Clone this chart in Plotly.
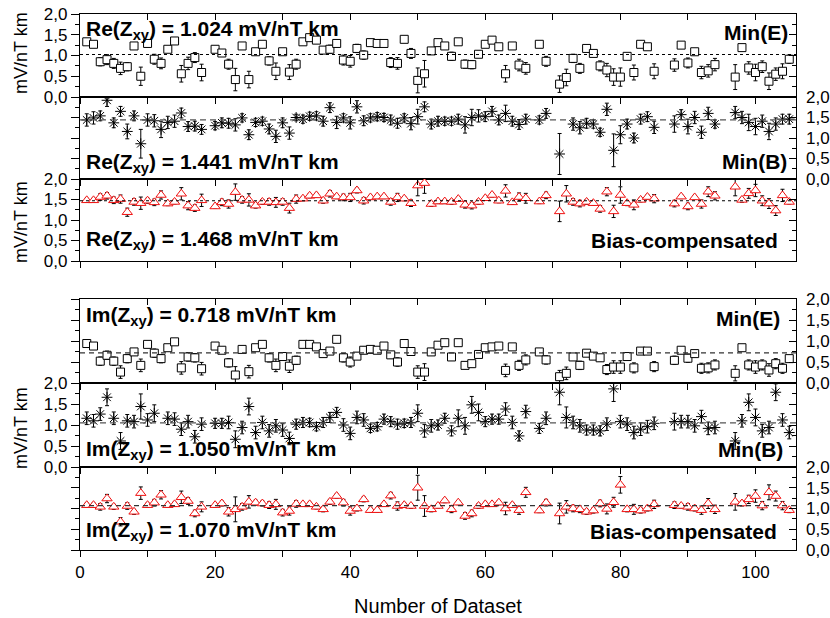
import plotly.graph_objects as go

# ---------------- data ----------------
DATASET = [1, 2, 3, 4, 5, 6, 7, 8, 9, 10, 11, 12, 13, 14, 15, 16, 17, 18,
           20, 21, 22, 23, 24, 25, 26, 27, 28, 29, 30, 31, 32, 33, 34, 35, 36, 37, 38, 39, 40,
           41, 42, 43, 44, 45, 46, 47, 48, 49, 50, 51, 52, 53, 54, 55, 56, 57, 58, 59, 60,
           61, 62, 63, 64, 65, 66, 68, 69,
           71, 72, 73, 74, 75, 76, 77, 78, 79, 80, 81, 82, 83, 84, 85,
           88, 89, 90, 91, 92, 93, 94,
           97, 98, 99, 100, 101, 102, 103, 104, 105]

RE_MIN_E = [1.33, 1.27, 0.85, 0.90, 0.81, 0.69, 0.73, 1.23, 0.50, 1.29, 0.91, 0.81, 1.15, 1.35, 0.56, 0.81, 0.95, 0.59,
            1.15, 1.06, 0.79, 0.42, 1.23, 0.42, 1.09, 1.27, 0.87, 0.62, 1.09, 0.60, 0.79, 1.33, 1.43, 1.37, 1.13, 1.15, 1.29, 0.89, 0.86,
            1.17, 1.01, 1.31, 1.29, 1.29, 0.83, 0.81, 1.39, 1.05, 0.40, 0.56, 1.11, 1.31, 1.23, 0.98, 1.33, 0.79, 0.78, 1.03, 1.27,
            1.37, 1.21, 0.56, 1.23, 0.77, 0.69, 1.27, 0.86,
            0.31, 0.47, 0.93, 0.69, 1.17, 1.05, 0.75, 0.65, 0.48, 0.48, 0.98, 0.59, 1.27, 1.21, 0.62,
            0.77, 1.25, 0.82, 1.09, 0.59, 0.63, 0.78,
            0.48, 1.19, 0.70, 0.59, 0.73, 0.38, 0.55, 0.62, 0.91]
RE_MIN_E_ERR = [.04, .04, .10, .12, .12, .15, .10, .05, .22, .03, .12, .13, .06, .04, .20, .15, .12, .20,
                .05, .06, .12, .27, .05, .20, .08, .04, .10, .20, .07, .18, .12, .04, .04, .04, .06, .10, .06, .12, .14,
                .10, .10, .04, .04, .04, .12, .14, .04, .12, .30, .32, .06, .04, .05, .10, .04, .10, .10, .08, .04,
                .04, .04, .20, .04, .14, .14, .04, .12,
                .20, .20, .10, .12, .06, .05, .12, .16, .20, .22, .07, .18, .04, .04, .18,
                .15, .06, .12, .05, .15, .15, .15,
                .30, .06, .15, .20, .14, .20, .15, .18, .10]

RE_MIN_B = [1.44, 1.49, 1.54, 1.92, 1.37, 1.65, 1.16, 1.54, 0.86, 1.44, 1.42, 1.21, 1.38, 1.41, 1.61, 1.28, 1.29, 1.21,
            1.30, 1.37, 1.36, 1.32, 1.49, 1.08, 1.38, 1.41, 1.22, 1.04, 1.37, 1.12, 1.50, 1.46, 1.53, 1.54, 1.41, 1.74, 1.38, 1.49, 1.37,
            1.76, 1.42, 1.49, 1.52, 1.50, 1.44, 1.36, 1.49, 1.35, 1.52, 1.76, 1.34, 1.41, 1.41, 1.41, 1.46, 1.32, 1.50, 1.54, 1.52,
            1.65, 1.44, 1.60, 1.41, 1.33, 1.46, 1.44, 1.60,
            0.61, None, 1.34, 1.25, 1.36, 1.34, 1.14, 1.70, 0.70, 1.08, 1.34, 1.00, 1.46, 1.52, 1.26,
            1.34, 1.57, 1.28, 1.50, 1.14, 1.60, 1.34,
            1.62, 1.50, 1.38, 1.28, 1.41, 1.16, 1.34, 1.46, 1.46]
RE_MIN_B_ERR = [.15, .15, .12, .15, .12, .12, .18, .12, .35, .15, .15, .20, .15, .15, .12, .12, .12, .12,
                .10, .12, .12, .15, .10, .12, .10, .10, .12, .15, .12, .15, .08, .10, .10, .10, .12, .12, .15, .10, .15,
                .15, .12, .10, .10, .10, .12, .12, .10, .15, .18, .12, .12, .12, .10, .10, .12, .20, .20, .15, .12,
                .12, .12, .20, .12, .12, .12, .10, .12,
                .50, None, .15, .15, .12, .10, .10, .15, .40, .22, .12, .12, .12, .12, .15,
                .20, .12, .18, .15, .15, .15, .10,
                .15, .15, .20, .20, .15, .20, .15, .12, .12]

RE_BIAS = [1.48, 1.48, 1.56, 1.59, 1.48, 1.51, 1.19, 1.44, 1.41, 1.47, 1.43, 1.61, 1.40, 1.44, 1.64, 1.35, 1.29, 1.48,
           1.33, 1.43, 1.39, 1.68, 1.49, 1.49, 1.35, 1.44, 1.44, 1.43, 1.44, 1.29, 1.51, 1.52, 1.59, 1.60, 1.47, 1.64, 1.57, 1.55, 1.55,
           1.72, 1.47, 1.55, 1.57, 1.57, 1.44, 1.55, 1.52, 1.41, 1.84, 1.90, 1.39, 1.45, 1.45, 1.44, 1.51, 1.37, 1.35, 1.44, 1.53,
           1.61, 1.47, 1.71, 1.43, 1.56, 1.53, 1.45, 1.60,
           1.21, 1.64, 1.44, 1.40, 1.44, 1.41, 1.27, 1.69, 1.21, 1.61, 1.41, 1.37, 1.49, 1.56, 1.52,
           1.40, 1.57, 1.33, 1.55, 1.39, 1.69, 1.59,
           1.81, 1.49, 1.65, 1.72, 1.47, 1.40, 1.23, 1.60, 1.44]
RE_BIAS_ERR = [.05, .05, .08, .08, .08, .10, .10, .08, .15, .06, .08, .10, .05, .05, .15, .10, .08, .15,
               .05, .08, .10, .20, .08, .15, .06, .06, .08, .12, .08, .12, .10, .05, .05, .05, .06, .08, .05, .08, .10,
               .06, .08, .05, .05, .05, .08, .10, .05, .08, .25, .25, .06, .05, .05, .06, .05, .08, .08, .06, .05,
               .05, .05, .15, .05, .10, .12, .05, .08,
               .25, .20, .08, .08, .06, .05, .08, .10, .15, .20, .06, .12, .05, .05, .10,
               .08, .05, .08, .05, .10, .12, .10,
               .22, .06, .12, .15, .12, .12, .12, .15, .05]

IM_MIN_E = [0.94, 0.88, 0.52, 0.66, 0.52, 0.26, 0.58, 0.74, 0.42, 0.92, 0.71, 0.58, 0.84, 0.98, 0.36, 0.62, 0.60, 0.34,
            0.88, 0.78, 0.48, 0.19, 0.80, 0.27, 0.84, 0.92, 0.60, 0.42, 0.63, 0.40, 0.54, 0.92, 0.92, 0.86, 0.70, 0.76, 1.04, 0.60, 0.50,
            0.64, 0.78, 0.80, 0.78, 0.88, 0.67, 0.50, 0.94, 0.75, 0.26, 0.26, 0.74, 0.90, 0.96, 0.62, 0.96, 0.42, 0.46, 0.68, 0.84,
            0.86, 0.88, 0.30, 0.86, 0.42, 0.55, 0.74, 0.55,
            0.15, 0.23, 0.62, 0.42, 0.71, 0.64, 0.60, 0.32, 0.38, 0.38, 0.63, 0.36, 0.76, 0.76, 0.39,
            0.54, 0.78, 0.59, 0.70, 0.35, 0.36, 0.43,
            0.23, 0.84, 0.43, 0.38, 0.43, 0.31, 0.46, 0.35, 0.58]
IM_MIN_E_ERR = [.03, .03, .10, .10, .10, .15, .10, .08, .15, .03, .10, .10, .05, .03, .15, .10, .10, .15,
                .04, .06, .10, .20, .05, .15, .05, .04, .10, .15, .08, .15, .10, .03, .03, .04, .05, .06, .03, .10, .12,
                .08, .08, .04, .04, .04, .08, .10, .04, .08, .15, .20, .05, .03, .03, .08, .03, .08, .08, .06, .04,
                .04, .04, .15, .04, .12, .12, .04, .10,
                .15, .15, .08, .10, .05, .06, .08, .12, .15, .15, .06, .12, .04, .04, .12,
                .10, .05, .10, .05, .12, .12, .12,
                .18, .05, .12, .15, .12, .15, .12, .12, .08]

IM_MIN_B = [1.16, 1.10, 1.26, 1.66, 1.16, 0.62, 1.10, 1.08, 1.44, 1.12, 1.28, None, 1.16, 1.14, 0.90, 1.08, 0.72, 1.02,
            1.04, 1.04, 1.06, 0.66, 0.94, 1.44, 0.82, 1.06, 0.86, 0.98, 0.88, 0.68, 1.02, 1.06, 1.06, 0.96, 1.06, 1.18, 1.30, 1.00, 0.80,
            1.18, 1.12, 0.92, 0.96, 1.14, 1.08, 1.02, 1.04, 1.06, 1.28, 0.86, 0.98, 1.00, 1.16, 0.86, 1.16, 0.98, 1.48, 1.30, 1.08,
            1.14, 1.14, 1.38, 1.06, 0.74, 1.32, 0.92, 1.16,
            1.78, 1.18, 1.06, 0.98, 0.88, 0.88, 0.86, 1.02, 1.86, 1.08, 1.02, 0.82, 0.90, 0.96, 1.04,
            1.08, 1.08, 1.08, 0.98, 1.20, 0.92, 0.94,
            0.62, 1.10, 1.54, 1.18, 0.86, 0.94, 1.78, 1.12, 0.82]
IM_MIN_B_ERR = [.15, .15, .15, .20, .15, .20, .15, .15, .30, .15, .20, None, .15, .15, .15, .15, .15, .15,
                .12, .12, .15, .20, .15, .20, .15, .15, .15, .15, .15, .15, .12, .12, .10, .10, .12, .12, .12, .15, .15,
                .15, .15, .10, .10, .12, .12, .12, .10, .12, .20, .15, .15, .12, .12, .12, .20, .20, .20, .20, .12,
                .12, .12, .15, .15, .12, .15, .12, .15,
                .30, .25, .15, .15, .12, .12, .12, .15, .30, .15, .15, .15, .15, .15, .15,
                .20, .15, .15, .15, .15, .15, .15,
                .20, .15, .20, .20, .15, .15, .20, .15, .15]

IM_BIAS = [1.08, 1.08, 1.04, 1.24, 1.04, 0.68, 1.06, 0.92, 1.37, 1.08, 1.14, 1.33, 1.08, 1.10, 1.27, 1.18, 0.88, 1.04,
           1.08, 1.12, 0.92, 0.98, 1.04, 1.16, 1.14, 1.12, 1.08, 1.10, 0.90, 0.94, 1.11, 1.10, 1.10, 1.04, 0.98, 1.16, 1.30, 1.14, 0.94,
           1.00, 1.22, 0.96, 0.96, 1.10, 1.31, 1.06, 1.08, 1.06, 1.50, 1.06, 0.98, 1.06, 1.19, 0.98, 1.14, 0.82, 0.88, 1.06, 1.10,
           1.10, 1.14, 1.00, 1.08, 0.96, 1.39, 0.95, 1.14,
           0.88, 1.04, 1.00, 0.98, 0.92, 0.95, 1.12, 0.99, 1.15, 1.57, 0.98, 0.98, 0.95, 1.00, 1.10,
           1.08, 1.06, 1.04, 1.00, 0.96, 1.12, 0.98,
           1.16, 1.12, 1.22, 1.30, 1.07, 1.39, 1.30, 1.07, 0.96]
IM_BIAS_ERR = [.05, .05, .08, .10, .06, .10, .08, .06, .15, .05, .08, .10, .05, .05, .15, .08, .08, .12,
               .05, .06, .10, .30, .08, .15, .06, .06, .08, .12, .08, .10, .08, .05, .05, .05, .06, .06, .05, .08, .10,
               .06, .06, .05, .05, .05, .08, .10, .05, .06, .30, .25, .06, .05, .05, .08, .05, .08, .08, .06, .05,
               .05, .05, .15, .05, .10, .12, .05, .08,
               .25, .15, .08, .08, .06, .06, .08, .12, .12, .20, .06, .12, .06, .06, .10,
               .08, .05, .08, .06, .10, .12, .10,
               .20, .06, .10, .15, .10, .18, .12, .10, .06]

MEANS = [1.024, 1.441, 1.468, 0.718, 1.050, 1.070]
VALUE_LABELS = ["Re(Z<sub>xy</sub>) = 1.024 mV/nT km", "Re(Z<sub>xy</sub>) = 1.441 mV/nT km",
                "Re(Z<sub>xy</sub>) = 1.468 mV/nT km", "Im(Z<sub>xy</sub>) = 0.718 mV/nT km",
                "Im(Z<sub>xy</sub>) = 1.050 mV/nT km", "Im(Z<sub>xy</sub>) = 1.070 mV/nT km"]
METHOD_LABELS = ["Min(E)", "Min(B)", "Bias-compensated", "Min(E)", "Min(B)", "Bias-compensated"]
Y_TICKS = [0, 0.5, 1.0, 1.5, 2.0]
X_TICKS = [0, 20, 40, 60, 80, 100]
Y_TITLE = "mV/nT km"
X_TITLE = "Number of Dataset"

SERIES = [(RE_MIN_E, RE_MIN_E_ERR), (RE_MIN_B, RE_MIN_B_ERR), (RE_BIAS, RE_BIAS_ERR),
          (IM_MIN_E, IM_MIN_E_ERR), (IM_MIN_B, IM_MIN_B_ERR), (IM_BIAS, IM_BIAS_ERR)]

# ---------------- layout geometry ----------------
W, H = 830, 618
ML, MR, MT, MB = 80, 34, 14, 68
PH = H - MT - MB
PW = W - ML - MR
panel_px = [(14, 97), (97, 179), (179, 261), (299, 383), (383, 467), (467, 550)]


def py(v):
    return (H - MB - v) / PH


def px(v):
    return (v - ML) / PW


FONT = "Liberation Sans, Arial, sans-serif"
marker_styles = ["E", "B", "C", "E", "B", "C"]
line_dash = ["dot", "6px,4px", "dot", "5px,4px", "6px,4px", "5px,4px"]
line_col = ["black", "#555", "black", "#333", "#555", "#333"]
left_labels = [True, False, True, False, True, False]

fig = go.Figure()
layout = dict(width=W, height=H, margin=dict(l=ML, r=MR, t=MT, b=MB, autoexpand=False),
              paper_bgcolor="white", plot_bgcolor="white", showlegend=False,
              separators=",.", font=dict(family=FONT, color="black", size=17))
annotations = []

for i in range(6):
    n = i + 1
    on = i + 7
    xs = "" if n == 1 else str(n)
    xname, yname = "x" + xs, "y" + xs
    oxname, oyname = "x" + str(on), "y" + str(on)
    top, bot = panel_px[i]
    dom = [py(bot), py(top)]
    vals, errs = SERIES[i]
    st = marker_styles[i]
    if st == "E":
        marker = dict(symbol="square", size=8, color="white", line=dict(width=1, color="black"))
    elif st == "B":
        marker = dict(symbol="asterisk-open", size=9, color="black", line=dict(width=1, color="black"))
    else:
        marker = dict(symbol="triangle-up", size=9, color="white", line=dict(width=1, color="#f01010"))
    fig.add_trace(go.Scatter(x=DATASET, y=vals, mode="markers", marker=marker,
                             error_y=dict(type="data", array=errs, color="black", thickness=1, width=2),
                             xaxis=xname, yaxis=yname, hoverinfo="skip"))
    fig.add_trace(go.Scatter(x=[0, 106], y=[MEANS[i], MEANS[i]], mode="lines",
                             line=dict(color=line_col[i], width=1.1, dash=line_dash[i]),
                             xaxis=oxname, yaxis=oyname, hoverinfo="skip"))
    is_bottom = (n == 6)
    layout["xaxis" + xs] = dict(domain=[0, 1], range=[0, 106], anchor=yname, side="bottom",
                                tickmode="array", tickvals=X_TICKS, automargin=False,
                                showticklabels=is_bottom, ticks="outside", ticklen=6, tickwidth=1,
                                tickcolor="black",
                                minor=dict(dtick=10, tick0=0, ticks="outside", ticklen=6, tickcolor="black", showgrid=False),
                                showline=True, linecolor="black", linewidth=1.3,
                                mirror=True, showgrid=False, zeroline=False,
                                tickfont=dict(size=17))
    if is_bottom:
        layout["xaxis" + xs]["title"] = dict(text=X_TITLE, font=dict(size=20), standoff=18)
    layout["xaxis" + str(on)] = dict(overlaying=xname, range=[0, 106], anchor=yname, side="top",
                                     tickmode="linear", tick0=0, dtick=10, showticklabels=False,
                                     automargin=False,
                                     ticks="inside", ticklen=6, tickwidth=1, tickcolor="black",
                                     showline=False, showgrid=False, zeroline=False)
    layout["yaxis" + xs] = dict(domain=dom, range=[0, 2], anchor=xname, side="left",
                                tickmode="array", tickvals=Y_TICKS, tickformat=".1f", automargin=False,
                                showticklabels=left_labels[i], ticks="outside", ticklen=8, tickwidth=1,
                                tickcolor="black",
                                minor=dict(dtick=0.25, ticks="outside", ticklen=4, tickcolor="black", showgrid=False),
                                showline=True, linecolor="black", linewidth=1.3, mirror=True,
                                showgrid=False, zeroline=False, tickfont=dict(size=17))
    layout["yaxis" + str(on)] = dict(overlaying=yname, range=[0, 2], anchor=xname, side="right",
                                     tickmode="array", tickvals=Y_TICKS, tickformat=".1f", automargin=False,
                                     showticklabels=not left_labels[i], ticks="inside", ticklen=7,
                                     tickwidth=1, tickcolor="black",
                                     minor=dict(dtick=0.25, ticks="inside", ticklen=4, tickcolor="black", showgrid=False),
                                     showline=False, showgrid=False, zeroline=False,
                                     tickfont=dict(size=17), ticklabelstandoff=9)

# text labels
label_y = [30, 163, 240, 316, 450, 531]
method_y = [32, 161, 240, 318, 449, 531]
method_x = [790, 789, 780, 782, 785, 779]
for i in range(6):
    annotations.append(dict(text="<b>" + VALUE_LABELS[i] + "</b>", xref="paper", yref="paper",
                            x=px(84), y=py(label_y[i]), xanchor="left", yanchor="middle",
                            showarrow=False, font=dict(size=21, family=FONT, color="black")))
    annotations.append(dict(text="<b>" + METHOD_LABELS[i] + "</b>", xref="paper", yref="paper",
                            x=px(method_x[i]), y=py(method_y[i]), xanchor="right", yanchor="middle",
                            showarrow=False, font=dict(size=21, family=FONT, color="black")))
for yc in [53, 222, 428]:
    annotations.append(dict(text=Y_TITLE, xref="paper", yref="paper", x=px(21), y=py(yc),
                            xanchor="center", yanchor="middle", textangle=-90, showarrow=False,
                            font=dict(size=18, family=FONT, color="black")))
layout["annotations"] = annotations
fig.update_layout(**layout)
fig.write_html("out.html", config={"displayModeBar": False},
               post_script="document.body.style.margin='0';document.body.style.padding='0';")
